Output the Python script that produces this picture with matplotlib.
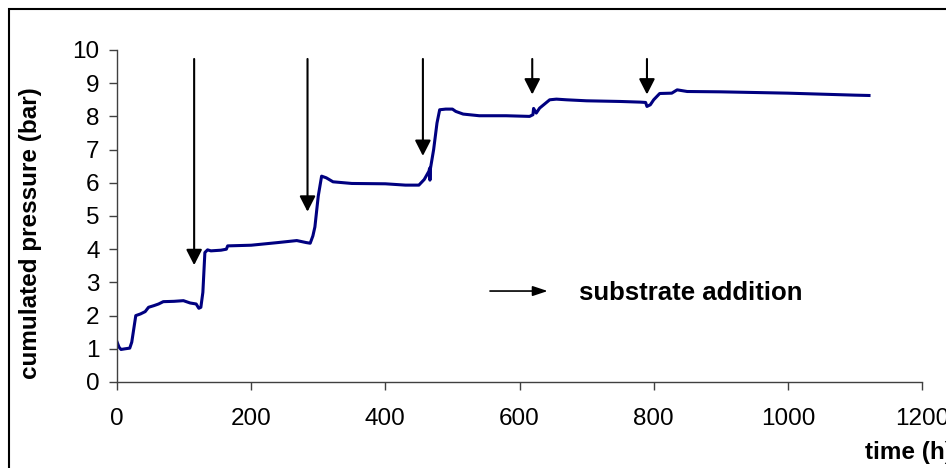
import matplotlib
matplotlib.use('Agg')
import matplotlib.pyplot as plt
from matplotlib.patches import Rectangle

plt.rcParams['font.family'] = ['Liberation Sans', 'DejaVu Sans']

# cumulated pressure curve
time_h = [0, 3, 6, 12, 19, 22, 25, 28, 35, 42, 47, 55, 62, 69, 85, 99, 109, 118,
          122, 125, 128, 131, 135, 140, 155, 163, 165, 200, 240, 268, 282, 288,
          292, 295, 300, 305, 312, 322, 350, 400, 430, 450, 458, 465, 466, 466.5,
          467, 472, 477, 481, 490, 500, 505, 516, 540, 580, 615, 620, 621, 625,
          630, 645, 655, 670, 700, 750, 780, 788, 790, 795, 800, 809, 827, 835,
          850, 900, 950, 1000, 1050, 1100, 1121]
pressure = [1.21, 1.05, 0.98, 1.0, 1.02, 1.2, 1.6, 2.0, 2.05, 2.12, 2.25, 2.3, 2.35,
            2.42, 2.43, 2.45, 2.38, 2.35, 2.22, 2.25, 2.7, 3.9, 3.98, 3.95, 3.97,
            4.0, 4.1, 4.12, 4.2, 4.26, 4.2, 4.18, 4.4, 4.67, 5.6, 6.2, 6.15, 6.03,
            5.98, 5.97, 5.93, 5.93, 6.1, 6.35, 6.44, 6.08, 6.4, 7.0, 7.8, 8.2,
            8.22, 8.22, 8.15, 8.07, 8.02, 8.02, 8.0, 8.05, 8.24, 8.1, 8.25, 8.5,
            8.52, 8.5, 8.47, 8.45, 8.43, 8.42, 8.3, 8.35, 8.5, 8.69, 8.7, 8.8,
            8.75, 8.74, 8.72, 8.7, 8.67, 8.64, 8.63]

# substrate additions: time and arrow tip
add_time = [115, 284, 456, 619, 790]
add_tip = [3.52, 5.13, 6.81, 8.66, 8.66]
arrow_top = 9.73

fig = plt.figure(figsize=(9.46, 4.68), dpi=100)
ax = fig.add_axes([117/946, 1-382/468, 805/946, 332/468])

ax.plot(time_h, pressure, color='#000080', linewidth=2.2)

for t, tip in zip(add_time, add_tip):
    ax.annotate('', xy=(t, tip), xytext=(t, arrow_top),
                arrowprops=dict(arrowstyle='-|>,head_length=0.47,head_width=0.24',
                                mutation_scale=20, color='black', lw=1.5,
                                shrinkA=0, shrinkB=0))

# key
ax.annotate('', xy=(642, 2.74), xytext=(556, 2.74),
            arrowprops=dict(arrowstyle='-|>,head_length=0.45,head_width=0.15',
                            mutation_scale=20, color='black', lw=1.2,
                            shrinkA=0, shrinkB=0))
ax.text(688, 2.68, 'substrate addition', fontsize=18.5, fontweight='bold',
        ha='left', va='center')

ax.set_xlim(0, 1200)
ax.set_ylim(0, 10)
ax.set_xticks(range(0, 1201, 200))
ax.set_yticks(range(0, 11))
for s in ['top', 'right']:
    ax.spines[s].set_visible(False)
for s in ['left', 'bottom']:
    ax.spines[s].set_color('#404040')
    ax.spines[s].set_linewidth(1)
ax.tick_params(axis='both', direction='out', length=5.5, width=1,
               color='#404040', labelsize=17.5)
ax.tick_params(axis='x', pad=13)
ax.tick_params(axis='y', pad=7)

fig.text(865/946, 1-452/468, 'time (h)', fontsize=17.5, fontweight='bold',
         ha='left', va='center')
fig.text(31/946, 1-233/468, 'cumulated pressure (bar)', fontsize=17.5,
         fontweight='bold', rotation=90, ha='center', va='center')

# outer frame
fig.patches.append(Rectangle((9/946, -0.2), 1.2, 1.2 - 9/468, transform=fig.transFigure,
                             fill=False, edgecolor='black', linewidth=1.5))

fig.savefig('out.png', dpi=100)
